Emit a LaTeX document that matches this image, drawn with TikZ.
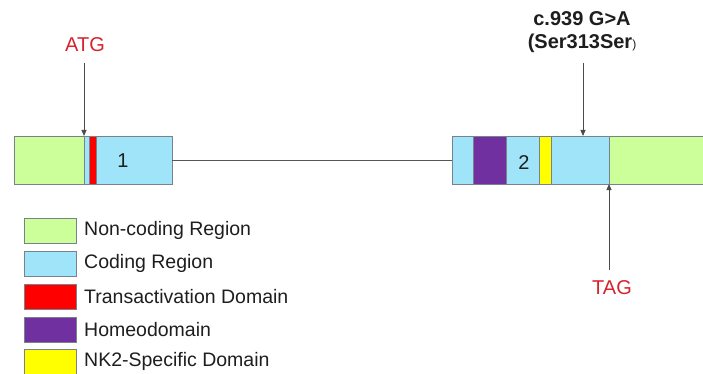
\documentclass[tikz,border=0pt]{standalone}
\usepackage{fontspec}
\setmainfont{Liberation Sans}
\usetikzlibrary{arrows.meta}
\definecolor{noncoding}{RGB}{204,255,153}
\definecolor{coding}{RGB}{160,228,250}
\definecolor{transact}{RGB}{255,0,0}
\definecolor{homeo}{RGB}{112,48,160}
\definecolor{nktwo}{RGB}{255,255,0}
\definecolor{outline}{RGB}{120,130,140}
\definecolor{sitered}{RGB}{215,35,45}
\definecolor{ink}{RGB}{30,30,30}
\begin{document}
\begin{tikzpicture}[x=1pt,y=-1pt,
  seg/.style={draw=outline, line width=0.8pt, inner sep=0pt, outer sep=0pt,
              anchor=north west, minimum height=48pt},
  key/.style={draw=outline, line width=0.8pt, inner sep=0pt, outer sep=0pt,
              anchor=north west, minimum width=52pt, minimum height=25pt},
  keytext/.style={anchor=west, inner sep=0pt, text=ink,
                  font=\fontsize{19.5}{23}\selectfont},
  site/.style={text=sitered, inner sep=0pt, font=\fontsize{20}{23}\selectfont},
  pointer/.style={draw=ink!80, line width=0.8pt, -{Triangle[length=6pt,width=5pt]}},
  exonnum/.style={inner sep=0pt, text=ink, font=\fontsize{20}{23}\selectfont},
  intron/.style={draw=ink!75, line width=0.8pt}]
\useasboundingbox (0,0) rectangle (703,374);
\clip (0,0) rectangle (703,374);
\fill[white] (0,0) rectangle (703,374);

% exon 1
\node[seg, fill=noncoding, minimum width=70pt] (e1utr) at (14,136) {};
\node[seg, fill=coding, minimum width=88pt] (e1cds) at (84,136) {};
\node[seg, fill=transact, minimum width=7pt] (e1ta) at (89,136) {};
\node[exonnum] (n1) at (123,161) {1};

% exon 2
\node[seg, fill=coding, minimum width=157pt] (e2cds) at (452,136) {};
\node[seg, fill=homeo, minimum width=33pt] (e2hd) at (473,136) {};
\node[seg, fill=nktwo, minimum width=12pt] (e2nk) at (539,136) {};
\node[seg, fill=noncoding, minimum width=110pt] (e2utr) at (609,136) {};
\node[exonnum] (n2) at (524,163) {2};

% intron
\draw[intron] (e1cds.east) -- (e2cds.west);

% start codon
\node[site] (atg) at (85,45) {ATG};
\coordinate (atgtip) at (84,136);
\coordinate (atgtail) at (84,63);
\draw[pointer] (atgtail) -- (atgtip);

% variant
\node[align=center, inner sep=0pt, text=ink,
      font=\bfseries\fontsize{20}{23}\selectfont] (mut) at (582,32)
  {c.939 G>A\\(Ser313Ser{\mdseries\fontsize{12}{12}\selectfont)}};
\coordinate (muttip) at (583,136);
\coordinate (muttail) at (583,63);
\draw[pointer] (muttail) -- (muttip);

% stop codon
\node[site] (tag) at (612,288) {TAG};
\coordinate (tagtip) at (609,184);
\coordinate (tagtail) at (609,270);
\draw[pointer] (tagtail) -- (tagtip);

% legend
\node[key, fill=noncoding] (k1) at (24,218) {};
\node[key, fill=coding] (k2) at (24,251) {};
\node[key, fill=transact] (k3) at (24,284) {};
\node[key, fill=homeo] (k4) at (24,317) {};
\node[key, fill=nktwo] (k5) at (24,349) {};
\node[keytext] (t1) at (84,230.5) {Non-coding Region};
\node[keytext] (t2) at (84,263.5) {Coding Region};
\node[keytext] (t3) at (84,296.5) {Transactivation Domain};
\node[keytext] (t4) at (84,329.5) {Homeodomain};
\node[keytext] (t5) at (84,361.5) {NK2-Specific Domain};
\end{tikzpicture}
\end{document}
